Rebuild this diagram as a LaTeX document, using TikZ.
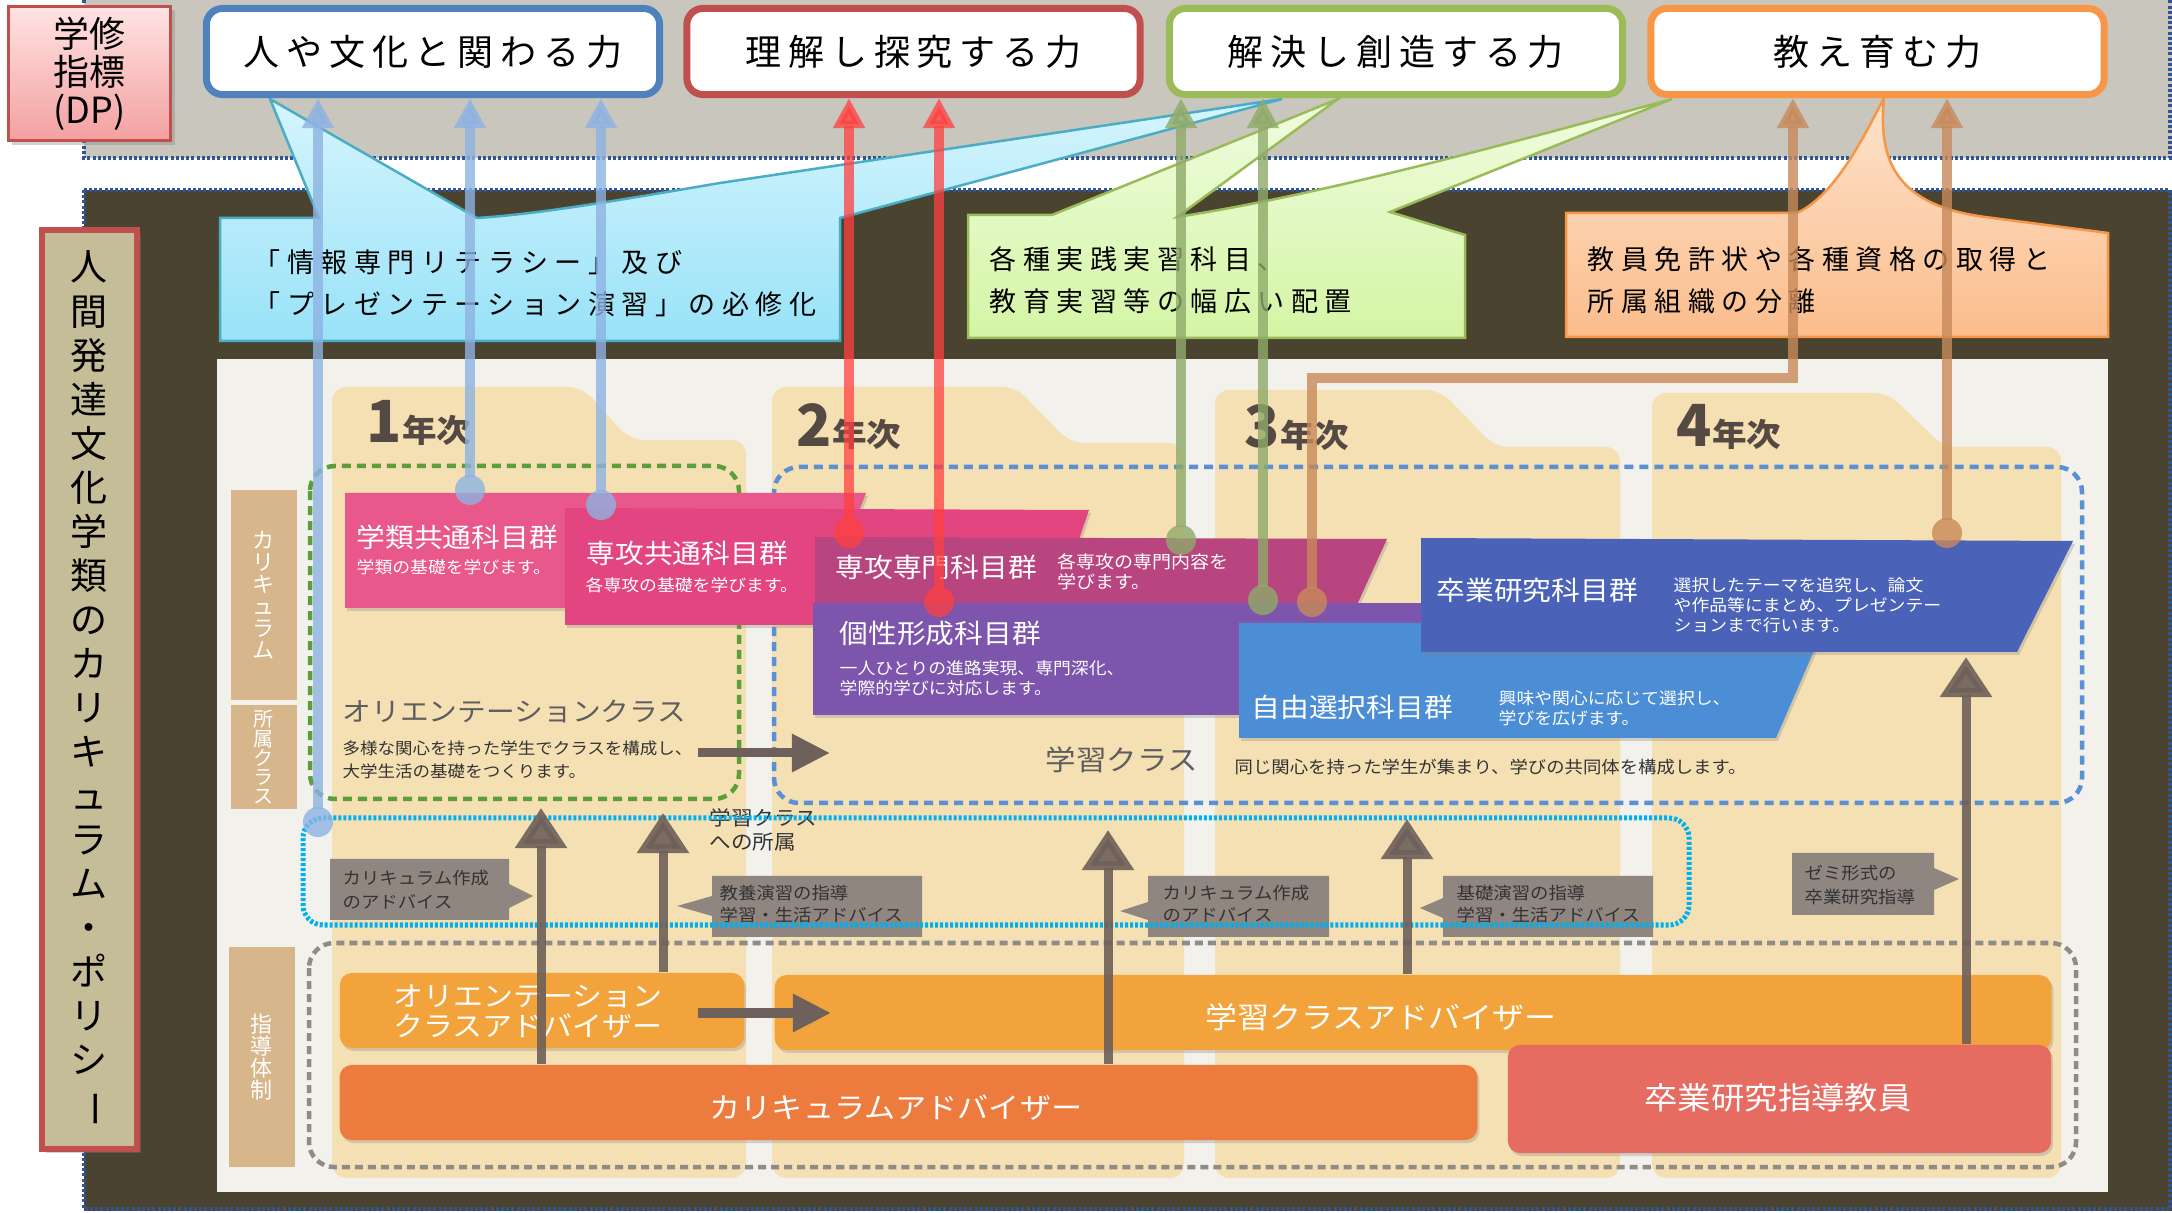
\documentclass[tikz,border=0pt]{standalone}
\usepackage{fontspec}
\usepackage{graphicx}
\setmainfont{Noto Sans CJK JP}
\newfontfamily\ig[FakeStretch=1.08]{Noto Sans CJK JP}
\usetikzlibrary{arrows.meta,shadows}

\newdimen\pxu \pxu=0.28453pt
\newcommand\fpx[2]{\fontsize{#1\pxu}{#2\pxu}\selectfont}

\definecolor{bandgray}{HTML}{C9C6BE}
\definecolor{darkbg}{HTML}{4A4330}
\definecolor{dotblue}{HTML}{2F5597}
\definecolor{scan}{HTML}{F2F1EC}
\definecolor{folder}{HTML}{F5E0B3}
\definecolor{sidetan}{HTML}{D6B68A}
\definecolor{leftan}{HTML}{C4BD97}
\definecolor{dpblue}{HTML}{4F81BD}
\definecolor{dpred}{HTML}{C0504D}
\definecolor{dpgreen}{HTML}{9BBB59}
\definecolor{dporange}{HTML}{F79646}
\definecolor{dptop}{HTML}{FFE3E3}
\definecolor{dpbot}{HTML}{F3A0A0}
\definecolor{cbline}{HTML}{4BACC6}
\definecolor{cbtop}{HTML}{D6F5FD}
\definecolor{cbbot}{HTML}{98E2F8}
\definecolor{cgtop}{HTML}{F0FCE0}
\definecolor{cgbot}{HTML}{D4F5A4}
\definecolor{cotop}{HTML}{FDE3CC}
\definecolor{cobot}{HTML}{FBBD8C}
\definecolor{kpink}{HTML}{E9588A}
\definecolor{spink}{HTML}{E2457F}
\definecolor{smag}{HTML}{B8457F}
\definecolor{kpurple}{HTML}{7D55AD}
\definecolor{jblue}{HTML}{4B8ED6}
\definecolor{sblue}{HTML}{4A62B8}
\definecolor{fgreen}{HTML}{5C9E3C}
\definecolor{fblue}{HTML}{5B8FD6}
\definecolor{fcyan}{HTML}{00B0F0}
\definecolor{fgray}{HTML}{8E8C88}
\definecolor{arrgray}{HTML}{6E605A}
\definecolor{callgray}{HTML}{8F8680}
\definecolor{barorange}{HTML}{F2A33C}
\definecolor{barred}{HTML}{EE7B3E}
\definecolor{barsalmon}{HTML}{E66B60}
\definecolor{txtgray}{HTML}{5E5E5E}
\definecolor{yeartxt}{HTML}{554943}
\definecolor{arrblue}{HTML}{8DB3E2}
\definecolor{arrred}{HTML}{FF4040}
\definecolor{arrgreen}{HTML}{8FAA6A}
\definecolor{arrbrown}{HTML}{C8895A}

\tikzset{
  bandline/.style={dotblue, line width=0.04cm, dash pattern=on 0.03cm off 0.022cm},
  topbox/.style={draw, fill=white, line width=0.07cm, rounded corners=0.16cm,
    minimum width=4.53cm, minimum height=0.86cm, inner sep=0pt,
    font=\fpx{36}{40}\addfontfeatures{LetterSpace=19}},
  calltext/.style={anchor=west, align=left, inner sep=0pt,
    font=\fpx{27}{42}\addfontfeatures{LetterSpace=24}},
  sidelbl/.style={fill=sidetan, minimum width=0.65cm, inner sep=0pt, text=white,
    align=center, font=\fpx{22}{22}},
  boxshadow/.style={drop shadow={opacity=0.3, shadow xshift=0.02cm, shadow yshift=-0.03cm}},
  subjtitle/.style={anchor=west, inner sep=0pt, text=white, font=\ig\fpx{26.6}{26}},
  subjnote/.style={anchor=west, inner sep=0pt, text=white, align=left, font=\ig\fpx{16.5}{20}},
  classnote/.style={anchor=west, inner sep=0pt, text=black!80, align=left, font=\ig\fpx{16.2}{23}},
  graynote/.style={anchor=west, inner sep=0pt, text=black!80, align=left, font=\ig\fpx{17}{24}},
  yearlbl/.style={anchor=base west, inner sep=0pt, text=yeartxt, font=\bfseries},
  bar/.style={rounded corners=0.12cm, inner sep=0pt, boxshadow},
  bartext/.style={inner sep=0pt, text=white, font=\ig\fpx{27.7}{30}},
  uparrow/.style={draw=arrgray, line width=0.09cm, opacity=0.9, -{Triangle[width=0.5cm, length=0.4cm]}},
  sidearrow/.style={draw=arrgray, line width=0.09cm, -{Triangle[width=0.36cm, length=0.38cm]}},
  dparrow/.style={line width=0.105cm, opacity=0.8, shorten <=0.13cm, -{Triangle[width=0.3cm, length=0.3cm]}},
}

\begin{document}
\begin{tikzpicture}[x=0.01cm, y=-0.01cm]

\useasboundingbox (0,0) rectangle (2172,1213);
\fill[white] (0,0) rectangle (2172,1213);

% bands
\fill[bandgray] (84,0) rectangle (2172,158);
\draw[bandline] (84,0) -- (84,158) -- (2170,158) -- (2170,0);
\fill[darkbg] (84,190) rectangle (2172,1211);
\draw[bandline] (84,190) rectangle (2170,1209);

% scanned chart
\fill[scan] (217,359) rectangle (2108,1192);

\fill[folder, rounded corners=0.14cm] (332,1178) -- (332,387) -- (582,387) -- (630,440) -- (746,440) -- (746,1178) -- cycle;
\fill[folder, rounded corners=0.14cm] (772,1178) -- (772,387) -- (1016,387) -- (1070,443) -- (1184,443) -- (1184,1178) -- cycle;
\fill[folder, rounded corners=0.14cm] (1215,1178) -- (1215,390) -- (1440,390) -- (1495,447) -- (1620,447) -- (1620,1178) -- cycle;
\fill[folder, rounded corners=0.14cm] (1652,1178) -- (1652,393) -- (1888,393) -- (1944,447) -- (2061,447) -- (2061,1178) -- cycle;

\node[yearlbl] (yr1) at (366,443) {{\fpx{58}{58}1}{\ig\fpx{32}{32}年次}};
\node[yearlbl] (yr2) at (796,447) {{\fpx{58}{58}2}{\ig\fpx{32}{32}年次}};
\node[yearlbl] (yr3) at (1244,448) {{\fpx{58}{58}3}{\ig\fpx{32}{32}年次}};
\node[yearlbl] (yr4) at (1676,447) {{\fpx{58}{58}4}{\ig\fpx{32}{32}年次}};

\node[sidelbl, minimum height=2.1cm] (sidecur) at (264,595) {カ\\リ\\キ\\ュ\\ラ\\ム};
\node[sidelbl, minimum height=1.03cm, font=\fpx{20}{19}] (sidecls) at (264,757) {所\\属\\ク\\ラ\\ス};
\node[sidelbl, minimum height=2.2cm] (sideguide) at (262,1057) {指\\導\\体\\制};

% class frames
\draw[fgreen, line width=0.045cm, dash pattern=on 0.09cm off 0.06cm, rounded corners=0.25cm] (310,466) rectangle (739,799);
\draw[fblue, line width=0.045cm, dash pattern=on 0.09cm off 0.06cm, rounded corners=0.25cm] (774,467) rectangle (2082,803);
\draw[fgray, line width=0.045cm, dash pattern=on 0.08cm off 0.05cm, rounded corners=0.25cm] (309,943) rectangle (2076,1167);

% subject groups
\fill[kpink, boxshadow] (345,493) -- (866,493) -- (846,545) -- (846,608) -- (345,608) -- cycle;
\fill[spink, boxshadow] (565,508) -- (1089,510) -- (1072,560) -- (1072,625) -- (565,625) -- cycle;
\fill[smag, boxshadow] (815,537) -- (1387,539) -- (1356,607) -- (815,607) -- cycle;
\fill[kpurple, boxshadow] (813,603) -- (1430,603) -- (1430,715) -- (813,715) -- cycle;
\fill[jblue, boxshadow] (1239,623) -- (1826,623) -- (1776,738) -- (1239,738) -- cycle;
\fill[sblue, boxshadow] (1421,538) -- (2073,541) -- (2017,652) -- (1421,652) -- cycle;

\node[subjtitle] (t1) at (356,537) {学類共通科目群};
\node[subjnote] (n1) at (356,567) {学類の基礎を学びます。};
\node[subjtitle] (t2) at (586,553) {専攻共通科目群};
\node[subjnote] (n2) at (585,585) {各専攻の基礎を学びます。};
\node[subjtitle] (t3) at (835,567) {専攻専門科目群};
\node[subjnote, font=\ig\fpx{17.6}{16}] (n3) at (1057,572) {各専攻の専門内容を\\学びます。};
\node[subjtitle] (t4) at (839,633) {個性形成科目群};
\node[subjnote] (n4) at (839,678) {一人ひとりの進路実現、専門深化、\\学際的学びに対応します。};
\node[subjtitle] (t5) at (1251,707) {自由選択科目群};
\node[subjnote] (n5) at (1498,708) {興味や関心に応じて選択し、\\学びを広げます。};
\node[subjtitle] (t6) at (1436,590) {卒業研究科目群};
\node[subjnote] (n6) at (1673,605) {選択したテーマを追究し、論文\\や作品等にまとめ、プレゼンテー\\ションまで行います。};

\node[subjtitle, text=txtgray] (oc) at (342,712) {オリエンテーションクラス};
\node[classnote] (ocn) at (342,760) {多様な関心を持った学生でクラスを構成し、\\大学生活の基礎をつくります。};
\node[subjtitle, text=txtgray, font=\ig\fpx{28.2}{28}] (lc) at (1045,760) {学習クラス};
\node[classnote, font=\ig\fpx{17}{20}] (lcn) at (1234,767) {同じ関心を持った学生が集まり、学びの共同体を構成します。};
\node[classnote, font=\ig\fpx{20}{24}] (lcj) at (709,830) {学習クラス\\への所属};

% advice notes
\fill[callgray] (330,859) -- (509,859) -- (509,884) -- (533,896) -- (509,908) -- (509,920) -- (330,920) -- cycle;
\fill[callgray] (712,876) -- (922,876) -- (922,937) -- (712,937) -- (712,916) -- (677,906) -- (712,896) -- cycle;
\fill[callgray] (1148,876) -- (1329,876) -- (1329,937) -- (1148,937) -- (1148,920) -- (1120,911) -- (1148,902) -- cycle;
\fill[callgray] (1443,876) -- (1653,876) -- (1653,937) -- (1443,937) -- (1443,918) -- (1420,908) -- (1443,898) -- cycle;
\fill[callgray] (1792,853) -- (1934,853) -- (1934,868) -- (1959,879) -- (1934,890) -- (1934,915) -- (1792,915) -- cycle;

\node[graynote] (note1) at (342,890) {カリキュラム作成\\のアドバイス};
\node[graynote, font=\ig\fpx{17}{22}] (note2) at (719,904) {教養演習の指導\\学習・生活アドバイス};
\node[graynote, font=\ig\fpx{17}{22}] (note3) at (1162,904) {カリキュラム作成\\のアドバイス};
\node[graynote, font=\ig\fpx{17}{22}] (note4) at (1456,904) {基礎演習の指導\\学習・生活アドバイス};
\node[graynote] (note5) at (1804,885) {ゼミ形式の\\卒業研究指導};

\draw[fcyan, line width=0.05cm, dash pattern=on 0.03cm off 0.02cm, rounded corners=0.2cm] (303,818) rectangle (1689,925);

% advisers
\node[bar, fill=barorange, minimum width=4.04cm, minimum height=0.75cm] (orad) at (542,1010.5) {};
\node[bar, fill=barorange, minimum width=12.76cm, minimum height=0.75cm] (gakuad) at (1413,1012.5) {};
\node[bar, fill=barred, minimum width=11.37cm, minimum height=0.75cm] (curad) at (908.5,1102.5) {};
\node[bar, fill=barsalmon, minimum width=5.43cm, minimum height=1.08cm] (sotsuad) at (1779.5,1099) {};

\node[bartext, anchor=west, align=left] (oradt) at (393,1012) {オリエンテーション\\クラスアドバイザー};
\node[bartext, font=\ig\fpx{29.6}{28}] (gakuadt) at (1381,1017) {学習クラスアドバイザー};
\node[bartext, font=\ig\fpx{28.8}{28}] (curadt) at (896,1108) {カリキュラムアドバイザー};
\node[bartext, font=\ig\fpx{30.9}{29}] (sotsuadt) at (1778,1098) {卒業研究指導教員};

\coordinate (upA) at (541,808);
\coordinate (upB) at (663,813);
\coordinate (upC) at (1108,830);
\coordinate (upD) at (1407,819);
\coordinate (upE) at (1966,657);
\draw[uparrow] (upA |- curad.north) -- (upA);
\draw[uparrow] (upB |- orad.north) -- (upB);
\draw[uparrow] (upC |- curad.north) -- (upC);
\draw[uparrow] (upD |- gakuad.north) -- (upD);
\draw[uparrow] (upE |- sotsuad.north) -- (upE);

\coordinate (clsA) at (698,753);
\coordinate (clsB) at (830,753);
\coordinate (adA) at (698,1013);
\coordinate (adB) at (831,1013);
\draw[sidearrow] (clsA) -- (clsB);
\draw[sidearrow] (adA) -- (adB);

% callouts
\path[draw=cbline, line width=0.025cm, top color=cbtop, bottom color=cbbot]
  (220,218) -- (319,218) -- (270,99) -- (477,218) .. controls (540,214) and (620,200) .. (720,183)
  -- (1282,99) -- (840,218) -- (840,341) -- (220,341) -- cycle;
\path[draw=dpgreen, line width=0.025cm, top color=cgtop, bottom color=cgbot]
  (968,215) -- (1052,215) -- (1338,99) -- (1177,217) .. controls (1300,198) and (1450,160) .. (1672,99)
  -- (1390,212) -- (1465,235) -- (1465,338) -- (968,338) -- cycle;
\path[draw=dporange, line width=0.025cm, top color=cotop, bottom color=cobot]
  (1566,213) -- (1797,213) .. controls (1835,195) and (1862,140) .. (1884,98)
  .. controls (1878,160) and (1895,205) .. (1985,217) -- (2108,233) -- (2108,337) -- (1566,337) -- cycle;

\node[calltext] (ctA) at (253,283) {「情報専門リテラシー」及び\\「プレゼンテーション演習」の必修化};
\node[calltext] (ctB) at (989,280) {各種実践実習科目、\\教育実習等の幅広い配置};
\node[calltext] (ctC) at (1587,280) {教員免許状や各種資格の取得と\\所属組織の分離};

% DP boxes
\node[draw=dpred, line width=0.03cm, top color=dptop, bottom color=dpbot, minimum width=1.62cm,
  minimum height=1.34cm, inner sep=0pt, align=center, font=\fpx{36}{38},
  drop shadow={opacity=0.35, shadow xshift=0.04cm, shadow yshift=-0.04cm}] (dp) at (89.5,73.5) {学修\\指標\\(DP)};
\node[draw=dpred, fill=leftan, line width=0.06cm, minimum width=0.95cm, minimum height=9.19cm,
  inner sep=0pt, align=center, font=\fpx{37}{44},
  drop shadow={opacity=0.35, shadow xshift=0.04cm, shadow yshift=-0.04cm}] (policy) at (89.5,689.5)
  {人\\間\\発\\達\\文\\化\\学\\類\\の\\カ\\リ\\キ\\ュ\\ラ\\ム\\・\\ポ\\リ\\シ\\\rotatebox[origin=c]{-90}{ー}};

\node[topbox, draw=dpblue] (kakawaru) at (433,51.5) {人や文化と関わる力};
\node[topbox, draw=dpred] (rikai) at (913.5,51.5) {理解し探究する力};
\node[topbox, draw=dpgreen] (kaiketsu) at (1396,51.5) {解決し創造する力};
\node[topbox, draw=dporange] (oshie) at (1877.5,51.5) {教え育む力};

% links to DP
\coordinate (b1) at (318,822);
\coordinate (b2) at (470,490);
\coordinate (b3) at (601,505);
\coordinate (r1) at (849,533);
\coordinate (r2) at (939,602);
\coordinate (g1) at (1181,540);
\coordinate (g2) at (1263,600);
\coordinate (o1) at (1312,602);
\coordinate (o1turn) at (1793,378);
\coordinate (o2) at (1947,533);

\foreach \p in {b1,b2,b3} \fill[arrblue, opacity=0.8] (\p) ellipse [x radius=0.15cm, y radius=0.15cm];
\foreach \p in {r1,r2} \fill[arrred, opacity=0.75] (\p) ellipse [x radius=0.15cm, y radius=0.15cm];
\foreach \p in {g1,g2} \fill[arrgreen, opacity=0.8] (\p) ellipse [x radius=0.15cm, y radius=0.15cm];
\foreach \p in {o1,o2} \fill[arrbrown, opacity=0.8] (\p) ellipse [x radius=0.15cm, y radius=0.15cm];

\draw[dparrow, arrblue] (b1) -- (b1 |- kakawaru.south);
\draw[dparrow, arrblue] (b2) -- (b2 |- kakawaru.south);
\draw[dparrow, arrblue] (b3) -- (b3 |- kakawaru.south);
\draw[dparrow, arrred, opacity=0.75] (r1) -- (r1 |- rikai.south);
\draw[dparrow, arrred, opacity=0.75] (r2) -- (r2 |- rikai.south);
\draw[dparrow, arrgreen] (g1) -- (g1 |- kaiketsu.south);
\draw[dparrow, arrgreen] (g2) -- (g2 |- kaiketsu.south);
\draw[dparrow, arrbrown] (o1) |- (o1turn) -- (o1turn |- oshie.south);
\draw[dparrow, arrbrown] (o2) -- (o2 |- oshie.south);

\end{tikzpicture}
\end{document}
